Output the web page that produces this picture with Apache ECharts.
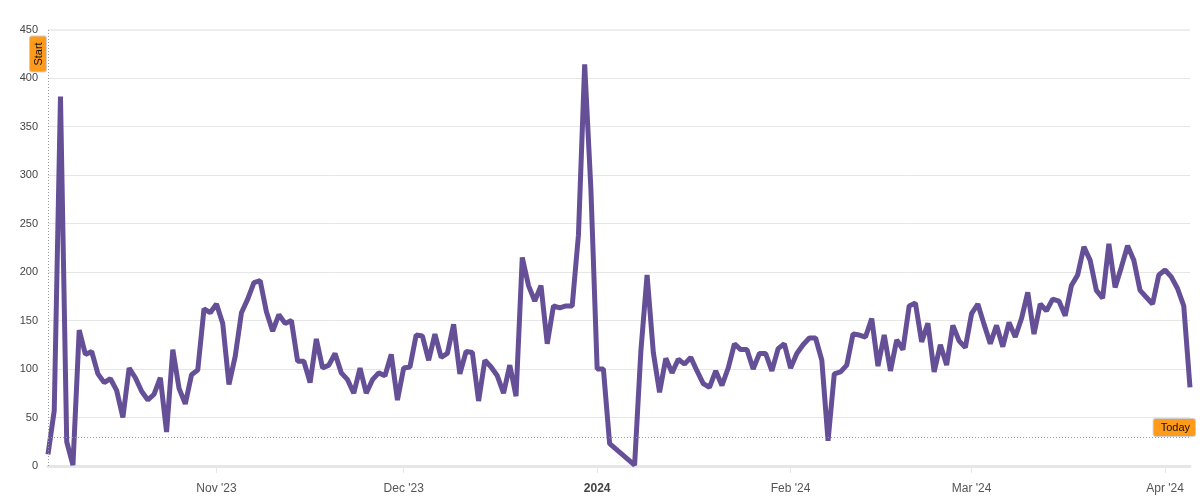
<!DOCTYPE html>
<html><head><meta charset="utf-8">
<script src="https://cdn.jsdelivr.net/npm/echarts@6/dist/echarts.min.js"></script>
<style>html,body{margin:0;padding:0;background:#fff}#c{width:1200px;height:500px}</style>
</head><body><div id="c"></div>
<script>
const startDay = '2023-10-05';
const values = [
12,57,381,25,1,140,115,118,95,86,90,78,50,101,91,77,68,74,91,35,120,80,64,94,99,162,158,167,147,84,113,158,172,189,191,159,139,156,147,150,108,108,86,131,101,104,116,
96,89,75,101,75,89,96,93,115,68,101,102,135,134,109,136,112,116,146,95,118,117,67,109,102,93,75,104,72,215,186,170,186,126,165,163,165,165,238,414,285,100,100,23,
null,null,null,1,118,197,117,76,111,96,110,105,112,98,85,81,98,83,101,126,120,120,100,116,116,98,121,126,101,116,125,132,132,109,26,95,97,104,136,135,133,152,103,135,98,130,120,
165,168,128,147,97,125,104,145,129,122,157,167,146,126,145,123,148,133,152,179,136,167,160,172,170,155,186,197,226,212,181,173,229,184,205,227,212,181,174,167,197,202,195,183,165,81
];
const monthLabels = {'2023-11-01':"Nov '23",'2023-12-01':"Dec '23",'2024-01-01':'2024','2024-02-01':"Feb '24",'2024-03-01':"Mar '24",'2024-04-01':"Apr '24"};
const yTicks = {min:0,max:450,interval:50};
const todayLevel = 30;

const t0 = Date.parse(startDay+'T00:00:00Z');
const dates = values.map((_,i)=>new Date(t0+i*864e5).toISOString().slice(0,10));
const chart = echarts.init(document.getElementById('c'),null,{renderer:'canvas'});
const font = '"Liberation Sans", Arial, sans-serif';
const badge = {show:true,color:'#111',fontFamily:font,fontSize:11,backgroundColor:'#ff9a1a',borderColor:'#cfcfcf',borderWidth:1,borderRadius:2};
const dotted = {type:[1,2],color:'#999',width:1};
chart.setOption({
  animation:false,
  grid:{left:48,right:10,top:29.5,bottom:34,containLabel:false},
  xAxis:{type:'category',data:dates,boundaryGap:false,
    axisLine:{lineStyle:{color:'#e6e6e6',width:3}},
    axisTick:{show:true,length:7,lineStyle:{color:'#e6e6e6',width:1},interval:(i,v)=>v in monthLabels},
    splitLine:{show:false},
    axisLabel:{show:true,margin:17,color:'#555',fontFamily:font,fontSize:12,hideOverlap:false,
      interval:(i,v)=>v in monthLabels,
      formatter:v=>v==='2024-01-01'?'{b|2024}':monthLabels[v],
      rich:{b:{fontWeight:'bold',color:'#444',fontFamily:font,fontSize:12}}}},
  yAxis:{type:'value',min:yTicks.min,max:yTicks.max,interval:yTicks.interval,
    axisLine:{show:false},axisTick:{show:false},
    splitLine:{lineStyle:{color:'#e6e6e6',width:1}},
    axisLabel:{margin:10,color:'#444',fontFamily:font,fontSize:11,padding:[0,0,3,0]}},
  series:[{type:'line',data:values,connectNulls:true,showSymbol:false,symbol:'none',
    lineStyle:{color:'#654f97',width:5,join:'bevel',cap:'butt'},
    markLine:{silent:true,symbol:'none',animation:false,
      data:[
        {yAxis:yTicks.max,label:{show:false},lineStyle:{type:'solid',color:'#eeeeee',width:2}},
        {xAxis:dates[0],lineStyle:dotted,label:{...badge,formatter:'Start',position:'end',rotate:90,padding:[3,6,2,6],offset:[-29.5,-2]}},
        {yAxis:todayLevel,lineStyle:dotted,label:{...badge,formatter:'Today',position:'insideEndTop',padding:[4,5,2,7],distance:1,offset:[6,0]}}
      ]}}]
});
</script></body></html>
